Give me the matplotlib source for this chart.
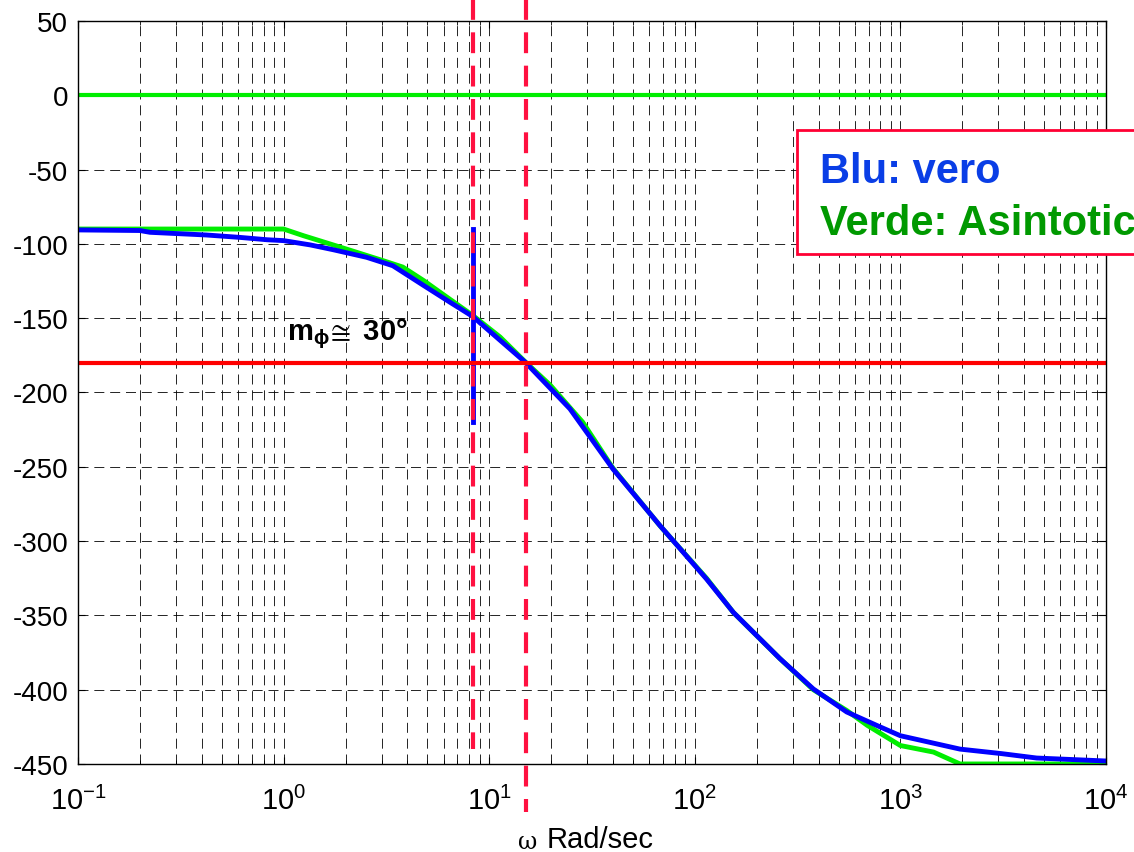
import numpy as np
import matplotlib
matplotlib.use("Agg")
import matplotlib.pyplot as plt
from matplotlib.patches import Rectangle

plt.rcParams['font.family'] = ['Liberation Sans', 'DejaVu Sans']
plt.rcParams['mathtext.fontset'] = 'custom'
plt.rcParams['mathtext.rm'] = 'Liberation Sans'
plt.rcParams['mathtext.bf'] = 'Liberation Sans:bold'
plt.rcParams['mathtext.it'] = 'Liberation Sans:italic'

# asymptotic phase (green)
w_asint = [0.1, 1.0, 1.25, 1.95, 3.05, 3.8, 4.8, 6.4, 8.35, 11.3, 15, 19.8, 28.5,
           40, 68, 114, 154, 259, 377, 548, 690, 1000, 1450, 1950, 10000]
ph_asint = [-90, -90, -94.5, -102.8, -111.3, -115.6, -124.7, -137, -148.3, -162.7,
            -179.5, -195, -220, -251, -290, -325, -348, -379, -400, -414, -424,
            -437.6, -442, -450, -450]

# true phase (blue)
w_vero = [0.1, 0.2, 0.224, 0.42, 0.61, 0.83, 1.0, 1.35, 1.74, 2.53, 3.4, 4.8, 6.4,
          8.35, 9.0, 15, 24.7, 40, 67.7, 114, 154, 259, 377, 548, 795, 1000, 1950,
          3090, 4600, 10000]
ph_vero = [-90.6, -91, -92.2, -94, -95.6, -97.2, -97.8, -100.7, -103.9, -109, -114.7,
           -128, -139, -149, -153, -179.7, -211, -251.5, -289.6, -325.5, -348, -379,
           -399.5, -415, -425, -431, -440, -443, -446, -448]

w_margin = 8.34      # frequency where the margin is read
w_cross = 15.1       # gain crossover
margin_seg = [-90, -220]
yticks = list(range(-450, 51, 50))
xticks = [0.1, 1, 10, 100, 1000, 10000]
xlabels = [r'$\mathregular{10^{-1}}$', r'$\mathregular{10^{0}}$', r'$\mathregular{10^{1}}$',
           r'$\mathregular{10^{2}}$', r'$\mathregular{10^{3}}$', r'$\mathregular{10^{4}}$']

fig = plt.figure(figsize=(11.34, 8.53), dpi=100)
ax = fig.add_axes([0.0688, 0.1032, 0.9065, 0.871])

ax.set_xscale('log')
ax.set_xlim(0.1, 1e4)
ax.set_ylim(-450, 50)
ax.set_yticks(yticks)
ax.set_yticklabels([str(v) for v in yticks])
ax.set_xticks(xticks)
ax.set_xticklabels(xlabels)

ax.grid(True, which='major', axis='both', color='k', lw=0.6, linestyle=(0, (12, 7)))
ax.grid(True, which='minor', axis='x', color='k', lw=0.6, linestyle=(0, (12, 7)))

ax.tick_params(which='both', direction='in', top=True, right=True)
ax.tick_params(axis='y', which='major', labelsize=20, length=5, pad=7)
ax.tick_params(axis='x', which='major', labelsize=21, length=5, pad=16)
ax.tick_params(which='minor', length=3)
for s in ax.spines.values():
    s.set_linewidth(1.0)

ax.axhline(0, color='#00ee00', lw=3)
ax.plot(w_asint, ph_asint, color='#00ee00', lw=3.5)
ax.plot(w_vero, ph_vero, color='#0000ff', lw=3.5)
ax.plot([w_margin, w_margin], margin_seg, color='#0000ff', lw=3.5)
ax.axhline(-180, color='#ff0000', lw=3)

ax.plot([w_margin, w_margin], [65, -440], color='#ff1040', lw=3,
        linestyle=(0, (5, 3)), clip_on=False)
ax.plot([w_cross, w_cross], [65, -482], color='#ff1040', lw=3,
        linestyle=(0, (5, 3)), clip_on=False)

ax.text(1.04, -164, r'$\mathbf{m}_{\mathbf{\phi}}\!\cong\ \mathbf{30°}$', fontsize=21,
        fontweight='bold')

# x label: omega in a serif face, as in the original
fig.text(518 / 1134, 1 - 849 / 853, 'ω', fontsize=17, family='DejaVu Serif')
fig.text(547 / 1134, 1 - 848 / 853, 'Rad/sec', fontsize=21)

box = Rectangle((797 / 1134, 1 - 255 / 853), 0.4, 124 / 853, transform=fig.transFigure,
                facecolor='white', edgecolor='#ff0033', lw=2, zorder=5)
fig.patches.append(box)
fig.text(820 / 1134, 1 - 183 / 853, 'Blu: vero', color='#0a3ee6', fontsize=30,
         fontweight='bold', zorder=6)
fig.text(820 / 1134, 1 - 235 / 853, 'Verde: Asintotico', color='#009900', fontsize=30,
         fontweight='bold', zorder=6)

plt.savefig('out.png', dpi=100)
